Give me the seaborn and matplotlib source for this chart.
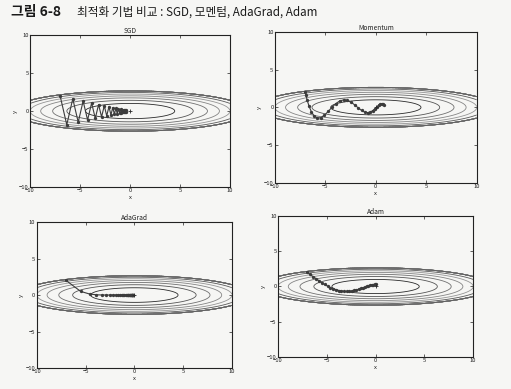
import numpy as np
import pandas as pd
import matplotlib
matplotlib.use("Agg")
import matplotlib.pyplot as plt
import seaborn as sns

# ---- data ----
titles = ["SGD", "Momentum", "AdaGrad", "Adam"]

sgd_x = [-7.0, -6.335, -5.733, -5.189, -4.696, -4.250, -3.846, -3.480, -3.150, -2.851,
         -2.580, -2.335, -2.113, -1.912, -1.731, -1.566, -1.417, -1.283, -1.161, -1.051,
         -0.951, -0.860, -0.779, -0.705, -0.638, -0.577, -0.522, -0.473, -0.428, -0.387]
sgd_y = [2.0, -1.8, 1.62, -1.458, 1.312, -1.181, 1.063, -0.957, 0.861, -0.775,
         0.697, -0.628, 0.565, -0.508, 0.458, -0.412, 0.371, -0.334, 0.300, -0.270,
         0.243, -0.219, 0.197, -0.177, 0.160, -0.144, 0.129, -0.116, 0.105, -0.094]

mom_x = [-7.0, -6.930, -6.798, -6.611, -6.376, -6.101, -5.793, -5.458, -5.101, -4.729,
         -4.348, -3.960, -3.572, -3.187, -2.809, -2.440, -2.084, -1.743, -1.418, -1.112,
         -0.825, -0.558, -0.313, -0.089, 0.113, 0.295, 0.455, 0.594, 0.714, 0.814]
mom_y = [2.0, 1.6, 0.92, 0.124, -0.617, -1.161, -1.418, -1.366, -1.046, -0.548,
         0.009, 0.509, 0.857, 0.998, 0.927, 0.676, 0.316, -0.071, -0.406, -0.626,
         -0.699, -0.624, -0.433, -0.174, 0.094, 0.316, 0.453, 0.486, 0.418, 0.273]

ada_x = [-7.0, -5.5, -4.573, -3.888, -3.345, -2.899, -2.524, -2.206, -1.932, -1.695,
         -1.489, -1.310, -1.153, -1.015, -0.895, -0.788, -0.695, -0.613, -0.540, -0.477,
         -0.420, -0.371, -0.327, -0.289, -0.255, -0.225, -0.198, -0.175, -0.154, -0.136]
ada_y = [2.0, 0.5, 0.136, 0.037, 0.010, 0.003, 0.001, 0.0, 0.0, 0.0,
         0.0, 0.0, 0.0, 0.0, 0.0, 0.0, 0.0, 0.0, 0.0, 0.0,
         0.0, 0.0, 0.0, 0.0, 0.0, 0.0, 0.0, 0.0, 0.0, 0.0]

adam_x = [-7.0, -6.7, -6.400, -6.102, -5.804, -5.507, -5.213, -4.920, -4.630, -4.343,
          -4.059, -3.779, -3.504, -3.234, -2.968, -2.709, -2.457, -2.211, -1.973, -1.743,
          -1.521, -1.308, -1.105, -0.912, -0.729, -0.557, -0.395, -0.245, -0.107, 0.021]
adam_y = [2.0, 1.7, 1.402, 1.109, 0.823, 0.548, 0.288, 0.049, -0.164, -0.346,
          -0.492, -0.600, -0.671, -0.706, -0.708, -0.682, -0.631, -0.561, -0.476, -0.380,
          -0.279, -0.176, -0.075, 0.021, 0.106, 0.180, 0.239, 0.283, 0.310, 0.322]

paths = [(sgd_x, sgd_y), (mom_x, mom_y), (ada_x, ada_y), (adam_x, adam_y)]

tick_values = [-10, -5, 0, 5, 10]
tick_labels = ["\u221210", "\u22125", "0", "5", "10"]

contour_levels = [0, 1, 2, 3, 4, 5, 6, 7]
contour_greys = ["#222222", "#2a2a2a", "#555555", "#707070", "#858585",
                 "#959595", "#5a5a5a", "#333333"]

# objective surface f(x, y) = x^2/20 + y^2, cut above 7 (as in the figure)
x_grid = np.arange(-10, 10, 0.01)
y_grid = np.arange(-5, 5, 0.01)
GX, GY = np.meshgrid(x_grid, y_grid)
GZ = GX ** 2 / 20.0 + GY ** 2
GZ[GZ > 7] = 0

# ---- drawing ----
sns.set_theme(style="white")
plt.rcParams["font.family"] = ["Noto Sans CJK KR", "DejaVu Sans"]

paper = "#f6f6f4"
ink = "#2a2a2a"

fig = plt.figure(figsize=(5.11, 3.89), dpi=100, facecolor=paper)

positions = [
    [0.059, 0.519, 0.391, 0.391],
    [0.538, 0.530, 0.395, 0.388],
    [0.072, 0.054, 0.382, 0.375],
    [0.544, 0.082, 0.382, 0.363],
]

for pos, title, (px, py) in zip(positions, titles, paths):
    ax = fig.add_axes(pos)
    ax.set_facecolor(paper)
    ax.contour(GX, GY, GZ, levels=contour_levels, colors=contour_greys,
               linewidths=0.6)
    df = pd.DataFrame({"x": px, "y": py})
    sns.lineplot(data=df, x="x", y="y", sort=False, estimator=None, ax=ax,
                 color="#3c3c3c", linewidth=0.8, marker="o", markersize=2.4,
                 markeredgewidth=0, legend=False)
    ax.plot(0, 0, "+", color=ink, markersize=3, markeredgewidth=0.6)
    ax.set_xlim(-10, 10)
    ax.set_ylim(-10, 10)
    ax.set_xticks(tick_values)
    ax.set_xticklabels(tick_labels)
    ax.set_yticks(tick_values)
    ax.set_yticklabels(tick_labels)
    ax.tick_params(labelsize=4.2, length=2, width=0.5, direction="in",
                   pad=1, colors="#222222", top=True, right=True,
                   bottom=True, left=True)
    ax.set_xlabel("x", fontsize=4.2, labelpad=1, color="#222222")
    ax.set_ylabel("y", fontsize=4.2, labelpad=1, color="#222222")
    ax.set_title(title, fontsize=4.8, pad=1.5, color="#222222")
    for sp in ax.spines.values():
        sp.set_color("#222222")
        sp.set_linewidth(0.8)

fig.text(0.022, 0.968, "그림 6-8", fontsize=10, fontweight="bold",
         color="#1a1a1a", va="center", ha="left")
fig.text(0.150, 0.968, "최적화 기법 비교 : SGD, 모멘텀, AdaGrad, Adam",
         fontsize=8.4, color="#1a1a1a", va="center", ha="left")

fig.savefig("out.png", dpi=100, facecolor=paper)
